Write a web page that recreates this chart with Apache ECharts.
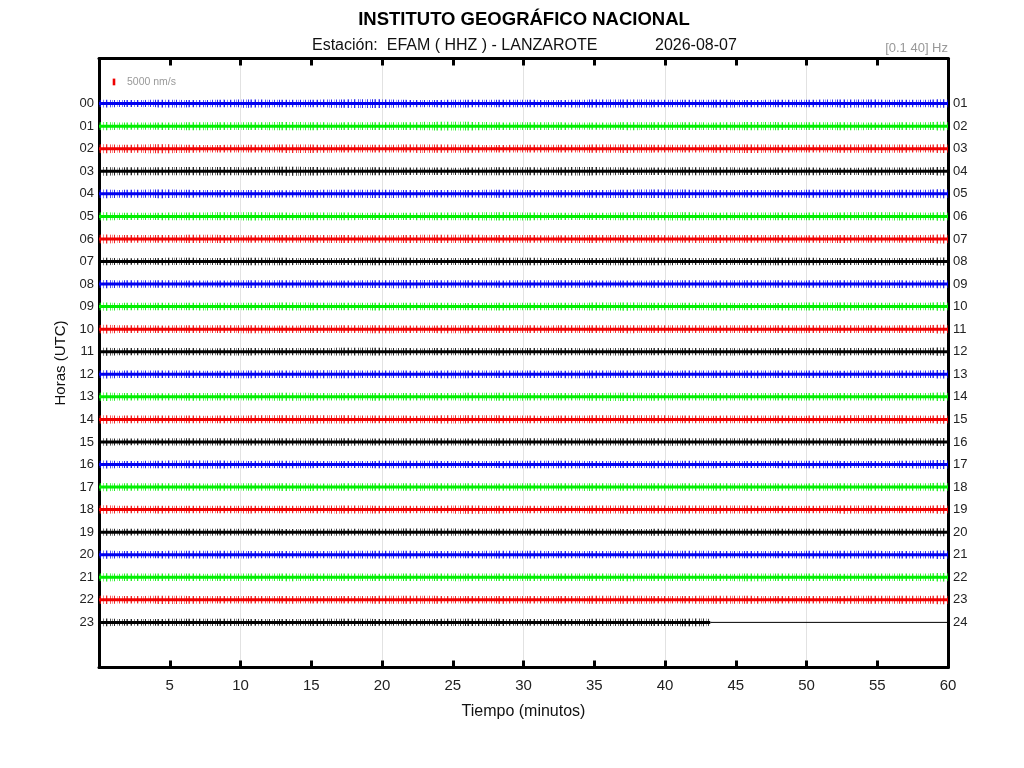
<!DOCTYPE html>
<html><head><meta charset="utf-8">
<script src="https://cdn.jsdelivr.net/npm/echarts@6/dist/echarts.min.js"></script>
<style>html,body{margin:0;padding:0;background:#fff}#c{width:1024px;height:768px}</style>
</head><body><div id="c"></div>
<script>
// ---- data ----
const HOURS = ['00','01','02','03','04','05','06','07','08','09','10','11','12','13','14','15','16','17','18','19','20','21','22','23'];
const RIGHT_LABELS = ['01','02','03','04','05','06','07','08','09','10','11','12','13','14','15','16','17','18','19','20','21','22','23','24'];
const X_TICKS = [5,10,15,20,25,30,35,40,45,50,55,60];
const TRACE_COLORS = ['#0000f0','#00ee00','#f00000','#000000'];
const TRACE_END = [60,60,60,60,60,60,60,60,60,60,60,60,60,60,60,60,60,60,60,60,60,60,60,43.2];
const BIN_MIN = 3; // each amplitude value covers 3 minutes
const SCALE_NMS = 5000;
// half-amplitude envelope of each hourly trace, nm/s, per 3-minute bin (estimated)
const A00 = [2600,2900,2700,3000,2800,3100,3300,2700,2900,2800,2700,2900,3000,2800,2900,2700,2800,3000,2900,2800];
const A01 = [2700,2800,3000,2900,3100,2800,2900,3000,3200,2800,2900,2700,3000,2900,2800,3100,2900,3000,2800,2900];
const A02 = [3000,3400,2800,2900,3200,3000,2900,3100,3000,2800,2900,3000,3100,2900,3000,3200,2900,3000,3100,2900];
const A03 = [2900,3000,3100,3000,3300,2900,3000,2800,2700,3000,2900,3100,2800,2900,3000,2800,2900,2700,2900,2800];
const A04 = [2900,3200,2800,2900,2700,3000,3100,2900,2800,3000,2800,2900,3100,3200,2900,2800,2900,3000,2900,3000];
const A05 = [2700,2800,2900,3000,2800,2900,2700,2800,2900,3100,2800,2700,2900,3000,2800,2900,2800,2900,3000,2800];
const A06 = [3000,2900,3100,2800,2900,3000,2800,3000,3100,2900,2800,3000,2900,2800,3000,2900,2800,3000,2900,3000];
const A07 = [2500,2700,2600,2800,2700,2600,2800,2700,2600,2800,2700,2600,2800,2700,2600,2700,2800,2600,2700,2600];
const A08 = [2700,2800,2600,2900,2800,2700,2900,3100,2800,2700,2800,2700,2600,2800,2700,2800,2700,2800,2900,2700];
const A09 = [2700,2800,2900,2800,3000,2800,2900,2800,2700,2900,2800,2900,3000,2800,2900,2700,2900,3000,2800,2800];
const A10 = [2900,2800,2900,3000,2800,2900,3000,2800,3000,2900,2800,2900,3000,2900,2800,2900,3000,2900,2800,2900];
const A11 = [2600,2700,2600,2800,2700,2800,2900,2600,2700,2800,2700,2600,2800,2700,2800,2600,2700,2800,2700,2700];
const A12 = [2700,2800,2700,2900,2800,3000,2800,2700,2900,2800,2700,2900,2800,2700,2800,2900,2800,2700,2800,2800];
const A13 = [2800,2700,2900,2800,3000,2800,2900,2800,2900,3000,2800,2900,3100,2800,2900,2800,2900,2800,2900,2800];
const A14 = [2800,2900,2800,2900,3000,3100,2900,2800,3000,2900,2800,2900,3000,2900,2800,2900,2800,2900,3000,2800];
const A15 = [2500,2600,2700,2600,2700,2800,2600,2700,2600,2800,2700,2600,2700,2800,2700,2600,2700,2800,2700,2600];
const A16 = [2600,2800,2900,2700,2800,2600,2700,2800,2600,2700,2800,2700,2600,2800,2700,2600,2800,2700,2600,3000];
const A17 = [2700,2800,2700,2800,2900,2700,2800,2900,2800,2700,2800,2900,2800,2700,2800,2900,2700,2800,2900,2800];
const A18 = [2800,2900,2800,2900,2800,3000,2900,2800,3100,2900,2800,2900,3000,2900,3000,2900,2800,3000,2900,2800];
const A19 = [2400,2500,2600,2500,2400,2600,2500,2700,2600,2500,2600,2500,2400,2600,2500,2600,2500,2600,2500,2600];
const A20 = [2700,2800,2900,2800,2700,2800,2900,2800,2700,2900,2800,2700,2800,2900,2800,2700,2800,2900,2800,2800];
const A21 = [2700,2800,2700,2800,2900,2800,2700,2800,2900,2800,2700,2800,2900,2800,2700,2900,2800,2700,2800,2800];
const A22 = [2800,3100,2900,2800,2900,2800,2900,3000,2800,2900,2800,2900,3000,2800,3000,2900,2800,2900,3000,2900];
const A23 = [2500,2600,2700,2600,2500,2700,2600,2500,2700,2600,2500,2600,2700,2600,2500];
const AMPS = [A00,A01,A02,A03,A04,A05,A06,A07,A08,A09,A10,A11,A12,A13,A14,A15,A16,A17,A18,A19,A20,A21,A22,A23];

// row spacing in nm/s (scale bar: 5000 nm/s ~ 6.7 px, row = 22.56 px)
const ROW_NMS = 16800;

const FONT = 'Liberation Sans';
const chart = echarts.init(document.getElementById('c'));

// irregular stripe texture used to fill each trace envelope (style only)
function stripePattern(color) {
  const c = document.createElement('canvas');
  c.width = 31; c.height = 4;
  const g = c.getContext('2d');
  g.fillStyle = color;
  [[0,1],[2,0.5],[3,0.9],[6,0.4],[7,1],[10,0.6],[13,1],[14,0.3],[17,0.8],[19,0.5],[21,1],[24,0.4],[26,0.9],[29,0.6]]
    .forEach(([x, a]) => { g.globalAlpha = a; g.fillRect(x, 0, 1, 4); });
  return { image: c, repeat: 'repeat' };
}
const PATTERNS = TRACE_COLORS.map(stripePattern);

function renderTrace(params, api) {
  const i = api.value(1);
  const amps = AMPS[i];
  const end = TRACE_END[i];
  const color = TRACE_COLORS[i % 4];
  const ts = [0];
  const as = [amps[0]];
  amps.forEach((a, k) => { const t = (k + 0.5) * BIN_MIN; if (t < end) { ts.push(t); as.push(a); } });
  ts.push(end); as.push(amps[amps.length - 1]);
  const upper = ts.map((t, k) => api.coord([t, i - as[k] / ROW_NMS]));
  const lower = ts.map((t, k) => api.coord([t, i + as[k] / ROW_NMS])).reverse();
  return {
    type: 'group',
    children: [
      { type: 'polygon', shape: { points: upper.concat(lower), smooth: 0.2 }, style: { fill: PATTERNS[i % 4], opacity: 0.85 } },
      { type: 'polyline', shape: { points: [api.coord([0, i]), api.coord([end, i])] }, style: { stroke: color, lineWidth: 3, fill: null } }
    ]
  };
}

function renderScale(params, api) {
  const x = api.value(0), y = api.value(1);
  const top = api.coord([x, y - SCALE_NMS / ROW_NMS / 2]);
  const bot = api.coord([x, y + SCALE_NMS / ROW_NMS / 2]);
  return {
    type: 'group',
    children: [
      { type: 'rect', shape: { x: top[0] - 1.3, y: top[1], width: 2.6, height: bot[1] - top[1] }, style: { fill: '#ee0000' } },
      { type: 'text', style: { text: SCALE_NMS + ' nm/s', x: top[0] + 13, y: (top[1] + bot[1]) / 2, fill: '#999', font: '10.5px ' + FONT, verticalAlign: 'middle' } }
    ]
  };
}

const axisLineStyle = { color: '#000', width: 3 };
chart.setOption({
  animation: false,
  textStyle: { fontFamily: FONT },
  grid: { left: 99, right: 76, top: 58.5, bottom: 100.5, containLabel: false },
  graphic: [
    { type: 'text', x: 524, y: 20, style: { text: 'INSTITUTO GEOGRÁFICO NACIONAL', font: 'bold 18.5px ' + FONT, fill: '#000', align: 'center', verticalAlign: 'middle' } },
    { type: 'text', x: 312, y: 46, style: { text: 'Estación:  EFAM ( HHZ ) - LANZAROTE', font: '16px ' + FONT, fill: '#111', verticalAlign: 'middle' } },
    { type: 'text', x: 655, y: 46, style: { text: '2026-08-07', font: '16px ' + FONT, fill: '#111', verticalAlign: 'middle' } },
    { type: 'text', x: 948, y: 48, style: { text: '[0.1 40] Hz', font: '13px ' + FONT, fill: '#999', align: 'right', verticalAlign: 'middle' } }
  ],
  xAxis: [
    { type: 'value', min: 0, max: 60, interval: 5, position: 'bottom',
      name: 'Tiempo (minutos)', nameLocation: 'middle', nameGap: 36, nameTextStyle: { fontSize: 16, color: '#111' },
      axisLine: { onZero: false, lineStyle: axisLineStyle }, axisTick: { inside: true, length: 7, lineStyle: { width: 3, color: '#000' } },
      axisLabel: { formatter: v => X_TICKS.indexOf(v) >= 0 ? String(v) : '', fontSize: 15, color: '#222', margin: 11 },
      splitLine: { show: false } },
    { type: 'value', min: 0, max: 60, interval: 5, position: 'top',
      axisLine: { onZero: false, lineStyle: axisLineStyle }, axisTick: { inside: true, length: 7, lineStyle: { width: 3, color: '#000' } },
      axisLabel: { show: false }, splitLine: { show: false } },
    { type: 'value', min: 0, max: 60, interval: 10, position: 'bottom',
      axisLine: { show: false, onZero: false }, axisTick: { show: false }, axisLabel: { show: false },
      splitLine: { show: true, lineStyle: { color: '#e2e2e2', width: 1 } } }
  ],
  yAxis: [
    { type: 'value', inverse: true, min: -2, max: 25, interval: 1, position: 'left',
      name: 'Horas (UTC)', nameLocation: 'middle', nameGap: 24, nameRotate: 90, nameTextStyle: { fontSize: 15, color: '#111' },
      axisLine: { show: true, onZero: false, lineStyle: axisLineStyle }, axisTick: { show: false },
      axisLabel: { formatter: v => (v >= 0 && v < HOURS.length) ? HOURS[v] : '', fontSize: 13, color: '#222', margin: 5 },
      splitLine: { show: false } },
    { type: 'value', inverse: true, min: -2, max: 25, interval: 1, position: 'right',
      axisLine: { show: true, onZero: false, lineStyle: axisLineStyle }, axisTick: { show: false },
      axisLabel: { formatter: v => (v >= 0 && v < RIGHT_LABELS.length) ? RIGHT_LABELS[v] : '', fontSize: 13, color: '#222', margin: 5 },
      splitLine: { show: false } }
  ],
  series: [
    { type: 'custom', xAxisIndex: 0, yAxisIndex: 0, renderItem: renderTrace, encode: { x: 0, y: 1 },
      data: HOURS.map((h, i) => [0, i]) },
    { type: 'line', xAxisIndex: 0, yAxisIndex: 0, symbol: 'none', lineStyle: { color: '#000', width: 1 },
      data: [[TRACE_END[23], 23], [60, 23]] },
    { type: 'custom', xAxisIndex: 0, yAxisIndex: 0, renderItem: renderScale, encode: { x: 0, y: 1 },
      data: [[1.06, -0.96]] }
  ]
});
</script></body></html>
